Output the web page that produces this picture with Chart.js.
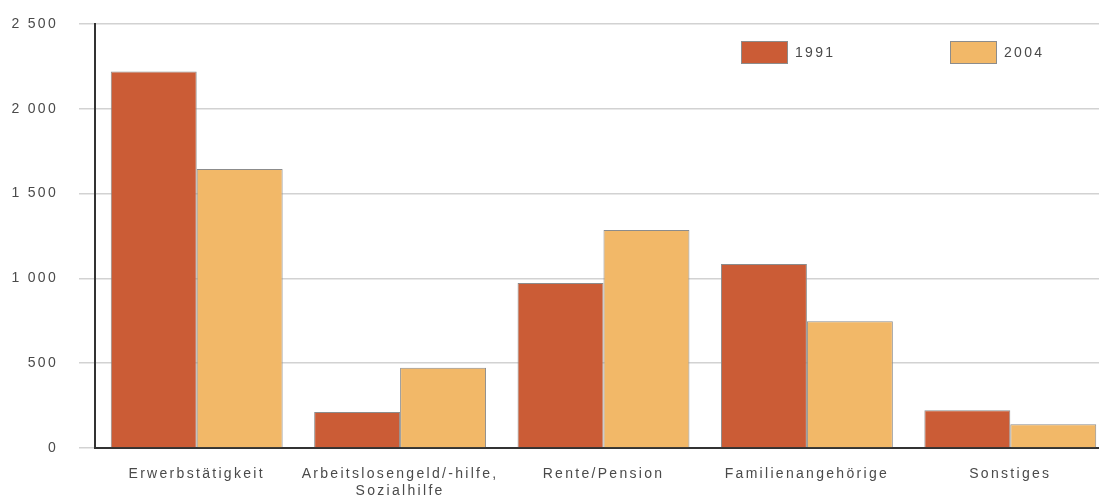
<!DOCTYPE html>
<html>
<head>
<meta charset="utf-8">
<script src="https://cdn.jsdelivr.net/npm/chart.js@4/dist/chart.umd.min.js"></script>
<style>
  html, body { margin: 0; padding: 0; background: #fff; }
  /* plot runs a little past the right edge and is clipped there */
  #wrap { width: 1099px; height: 500px; overflow: hidden; }
</style>
</head>
<body>
<div id="wrap"><canvas id="chart" width="1112" height="500"></canvas></div>
<script>
// Categories and values (in thousands)
const categories = [
    'Erwerbstätigkeit',
    ['Arbeitslosengeld/-hilfe,', 'Sozialhilfe'],
    'Rente/Pension',
    'Familienangehörige',
    'Sonstiges'
];
const seriesLabels = ['1991', '2004'];
const values1991 = [2220, 212, 973, 1085, 222];
const values2004 = [1645, 473, 1285, 747, 140];
const yTicks = [0, 500, 1000, 1500, 2000, 2500];

const colors = ['#cb5c36', '#f2b868'];
const FONT = '"Liberation Sans", Arial, sans-serif';
const SPACING = '2.3px';

// thousands separated by a space: 2500 -> "2 500"
function fmt(v) {
    return String(v).replace(/\B(?=(\d{3})+(?!\d))/g, ' ');
}

// wide letter spacing for every label on the canvas
const spacedText = {
    id: 'spacedText',
    beforeInit(chart) { chart.ctx.letterSpacing = SPACING; },
    beforeDraw(chart) { chart.ctx.letterSpacing = SPACING; }
};

// legend drawn inside the plot area, top right
const insideLegend = {
    id: 'insideLegend',
    afterDraw(chart) {
        const { ctx, chartArea } = chart;
        const starts = [chartArea.left + 646, chartArea.left + 855];
        ctx.save();
        ctx.letterSpacing = SPACING;
        ctx.font = '14px ' + FONT;
        ctx.textBaseline = 'middle';
        chart.data.datasets.forEach((ds, i) => {
            const x = starts[i], y = chartArea.top + 17;
            ctx.fillStyle = ds.backgroundColor;
            ctx.fillRect(x, y, 47, 23);
            ctx.strokeStyle = '#8c8c8c';
            ctx.lineWidth = 1;
            ctx.strokeRect(x + 0.5, y + 0.5, 46, 22);
            ctx.fillStyle = '#4a4a4a';
            ctx.fillText(ds.label, x + 54, y + 12);
        });
        ctx.restore();
    }
};

new Chart(document.getElementById('chart').getContext('2d'), {
    type: 'bar',
    data: {
        labels: categories,
        datasets: [values1991, values2004].map((data, i) => ({
            label: seriesLabels[i],
            data,
            backgroundColor: colors[i],
            borderColor: '#8c8c8c',
            borderWidth: 1,
            categoryPercentage: 0.845,
            barPercentage: 1.0
        }))
    },
    options: {
        responsive: false,
        animation: false,
        layout: { padding: { top: 24, right: 0, left: 0, bottom: 0 } },
        plugins: {
            legend: { display: false },
            tooltip: { enabled: false }
        },
        scales: {
            x: {
                grid: { display: false },
                border: { color: '#333', width: 2 },
                ticks: {
                    color: '#4a4a4a',
                    font: { family: FONT, size: 14 },
                    padding: 10,
                    maxRotation: 0,
                    autoSkip: false
                },
                afterFit: s => { s.height = 52; }
            },
            y: {
                min: 0,
                max: 2500,
                afterBuildTicks: s => { s.ticks = yTicks.map(v => ({ value: v })); },
                grid: {
                    color: '#d2d2d2',
                    lineWidth: 1.5,
                    tickLength: 16,
                    tickColor: '#d2d2d2'
                },
                border: { color: '#333', width: 2 },
                ticks: {
                    color: '#4a4a4a',
                    font: { family: FONT, size: 14 },
                    padding: 21,
                    callback: v => fmt(v)
                },
                afterFit: s => {
                    s.width = 95;
                    s.paddingTop = 0;
                    s.paddingBottom = 0;
                }
            }
        }
    },
    plugins: [spacedText, insideLegend]
});
</script>
</body>
</html>
